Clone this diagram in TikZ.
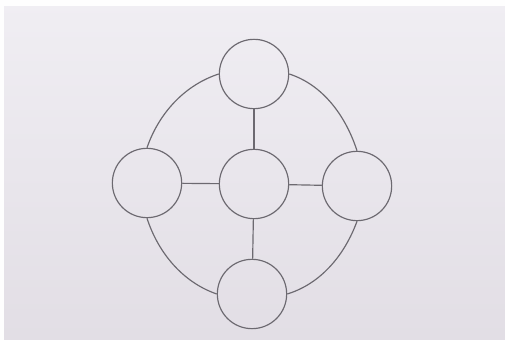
\documentclass[tikz,border=0pt]{standalone}
\usepackage{tikz}
\usetikzlibrary{shapes,arrows,positioning}

\definecolor{paper}{RGB}{226,222,229}
\definecolor{paperlight}{RGB}{240,238,243}
\definecolor{pencil}{RGB}{108,105,112}

\begin{document}
\begin{tikzpicture}[x=0.03cm,y=0.03cm,
    disc/.style={circle,draw=pencil,line width=1pt,minimum size=2.08cm,inner sep=0pt},
    link/.style={draw=pencil,line width=1pt},
    ring/.style={link,looseness=0.9}]
    \shade[top color=paperlight,bottom color=paper] (0,0) rectangle (505,340);
    \fill[white!97!paper] (0,334) rectangle (505,340);
    \fill[white!97!paper] (0,0) rectangle (4,340);
    \useasboundingbox (0,0) rectangle (505,340);
    \node[disc] (hub) at (254,156) {};
    \node[disc] (top) at (254,266) {};
    \node[disc] (bottom) at (252,46) {};
    \node[disc] (left) at (147,157) {};
    \node[disc] (right) at (357,154) {};
    % outer ring
    \draw[ring] (top.west) to[out=198,in=71] (left.north);
    \draw[ring] (left.south) to[out=288,in=161] (bottom.west);
    \draw[ring] (bottom.east) to[out=17,in=250] (right.south);
    \draw[ring] (right.north) to[out=108,in=342] (top.east);
    % spokes
    \draw[link] (hub) -- (top);
    \draw[link] (hub) -- (bottom);
    \draw[link] (hub) -- (left);
    \draw[link] (hub) -- (right);
\end{tikzpicture}
\end{document}
